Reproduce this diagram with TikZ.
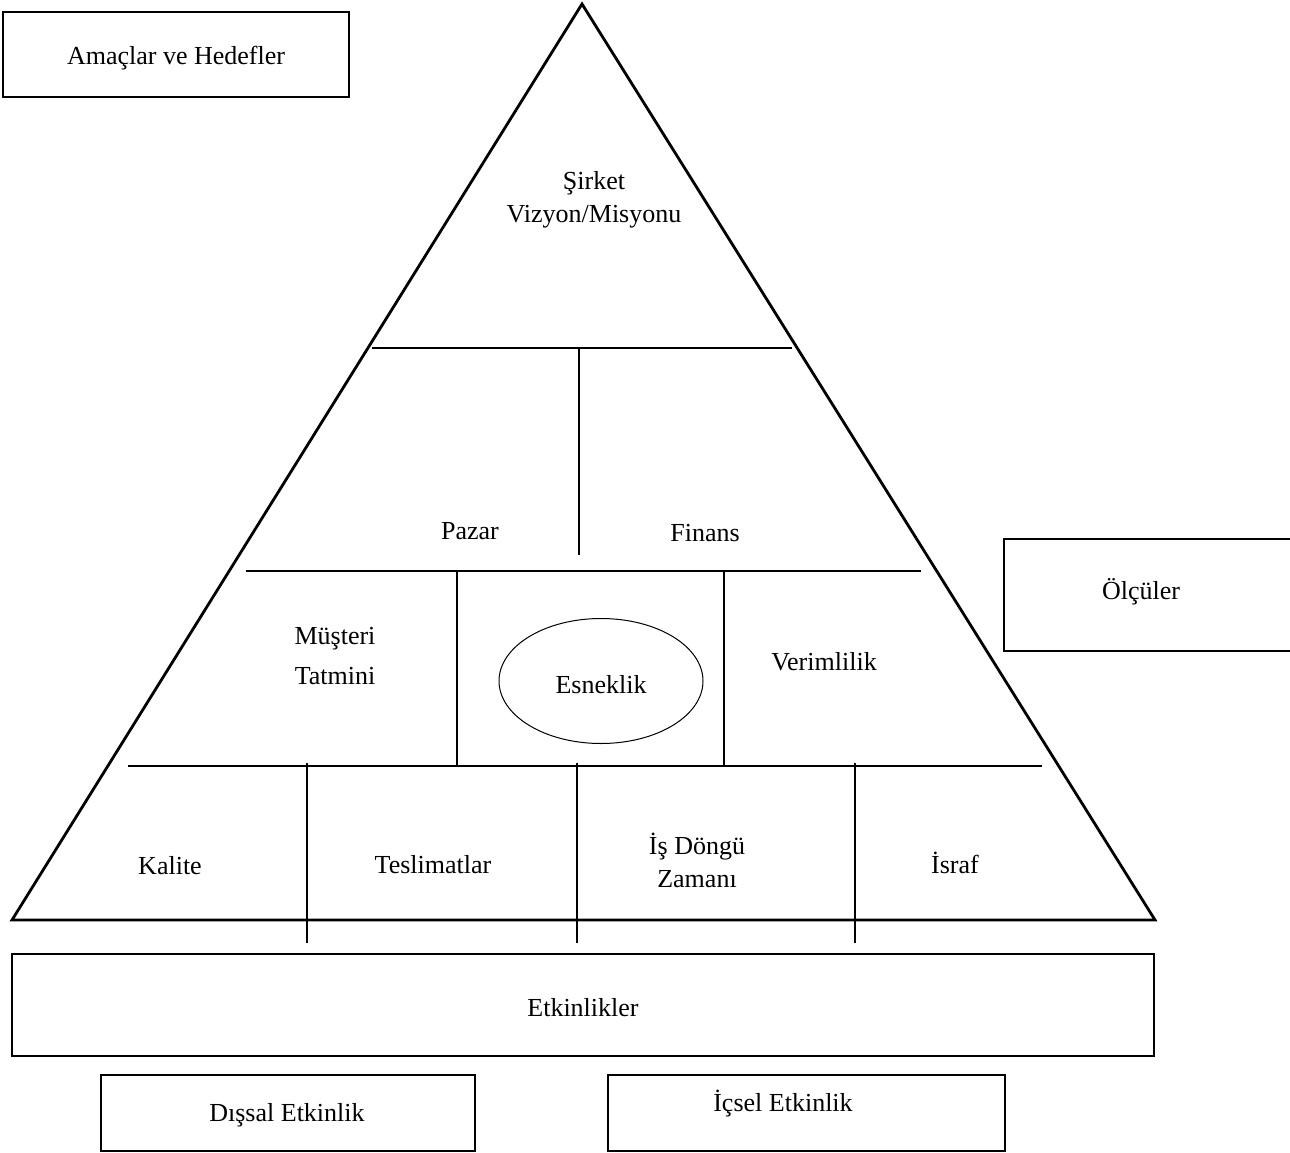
\documentclass[tikz,border=0pt]{standalone}
\usepackage{fontspec}
\setmainfont{Liberation Serif}
\usetikzlibrary{shapes.geometric}
\begin{document}
\begin{tikzpicture}[x=1pt,y=-1pt,
  thick line/.style={line width=2.8pt,line join=miter},
  thin line/.style={line width=1.6pt},
  boxnode/.style={draw,line width=2.8pt,inner sep=0pt},
  lbl/.style={font=\fontsize{26}{33}\selectfont,align=center,inner sep=0pt}]
\useasboundingbox (0,0) rectangle (1290,1153);
% outer triangle
\coordinate (apex) at (582,4);
\coordinate (bl) at (12,920);
\coordinate (br) at (1155,920);
\draw[thick line] (apex) -- (br) -- (bl) -- cycle;
% boxes
\node[boxnode,minimum width=346pt,minimum height=85pt] (goals) at (176,54.5) {};
\node[lbl] at (176,58) {Amaçlar ve Hedefler};
\node[boxnode,minimum width=1142pt,minimum height=102pt] (act) at (583,1005) {};
\node[lbl] at (583,1008) {Etkinlikler};
\node[boxnode,minimum width=374pt,minimum height=76pt] (ext) at (288,1113) {};
\node[lbl] at (287,1115) {Dışsal Etkinlik};
\node[boxnode,minimum width=397pt,minimum height=76pt] (int) at (806.5,1113) {};
\node[lbl] at (783,1104) {İçsel Etkinlik};
\node[boxnode,minimum width=300pt,minimum height=112pt] (meas) at (1154,595) {};
\node[lbl] at (1141,592) {Ölçüler};
% inner horizontal lines
\coordinate (h1l) at (372,348); \coordinate (h1r) at (792,348);
\coordinate (h2l) at (246,571); \coordinate (h2r) at (921,571);
\coordinate (h3l) at (128,766); \coordinate (h3r) at (1042,766);
\draw[thin line] (h1l) -- (h1r);
\draw[thin line] (h2l) -- (h2r);
\draw[thin line] (h3l) -- (h3r);
% verticals
\coordinate (v1t) at (579,348); \coordinate (v1b) at (579,555);
\coordinate (v2t) at (457,571); \coordinate (v2b) at (457,767);
\coordinate (v3t) at (724,571); \coordinate (v3b) at (724,767);
\coordinate (v4t) at (307,763); \coordinate (v4b) at (307,943);
\coordinate (v5t) at (577,763); \coordinate (v5b) at (577,943);
\coordinate (v6t) at (855,763); \coordinate (v6b) at (855,943);
\draw[thin line] (v1t) -- (v1b);
\draw[thin line] (v2t) -- (v2b);
\draw[thin line] (v3t) -- (v3b);
\draw[thin line] (v4t) -- (v4b);
\draw[thin line] (v5t) -- (v5b);
\draw[thin line] (v6t) -- (v6b);
% ellipse
\node[draw,ellipse,line width=1pt,minimum width=204pt,minimum height=125pt,inner sep=0pt] (esn) at (601,681) {};
\node[lbl] at (601,685) {Esneklik};
% labels
\node[lbl] (sirket) at (594,200) {Şirket\\Vizyon/Misyonu};
\node[lbl] (pazar) at (470,531) {Pazar};
\node[lbl] (finans) at (705,533) {Finans};
\node[lbl] (must) at (335,656) {Müşteri\\[7pt]Tatmini};
\node[lbl] (verim) at (824,662) {Verimlilik};
\node[lbl] (kal) at (170,866) {Kalite};
\node[lbl] (tes) at (433,865) {Teslimatlar};
\node[lbl] (isd) at (697,860) {İş Döngü\\Zamanı};
\node[lbl] (isr) at (955,863) {İsraf};
\end{tikzpicture}
\end{document}
